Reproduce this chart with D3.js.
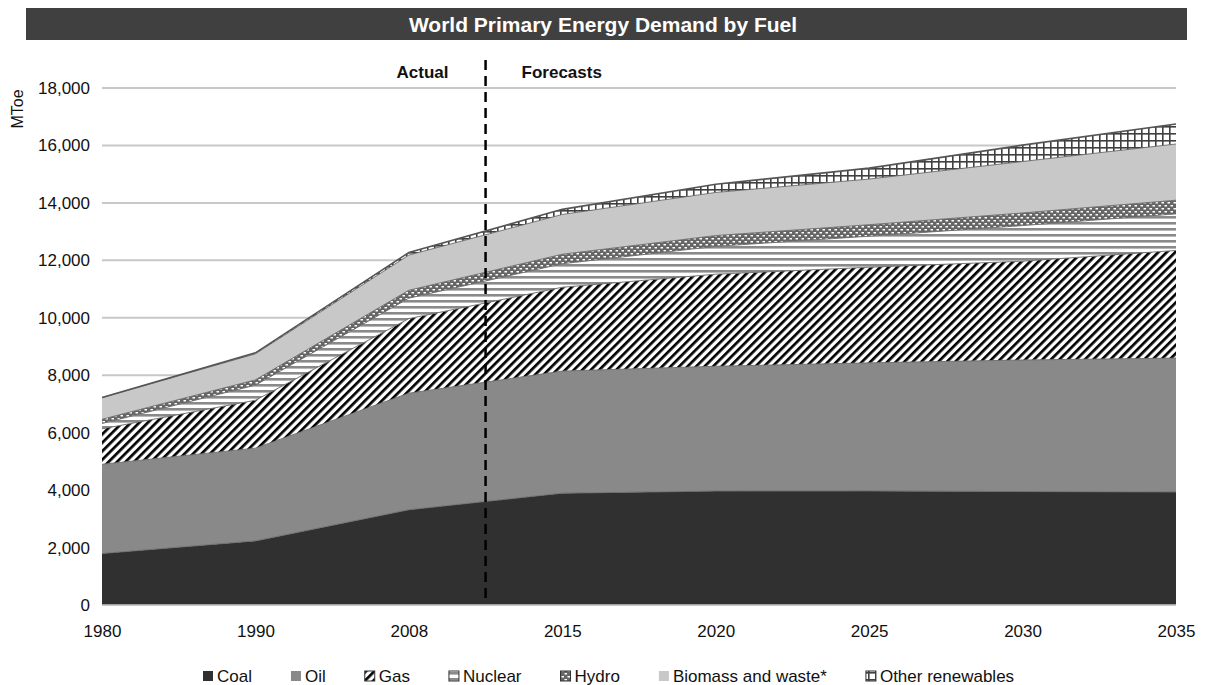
<!DOCTYPE html>
<html>
<head>
<meta charset="utf-8">
<script src="https://cdn.jsdelivr.net/npm/d3@7"></script>
<style>
  body { margin: 0; background: #fff; }
  svg { display: block; font-family: "Liberation Sans", Arial, Helvetica, sans-serif; }
</style>
</head>
<body>
<svg id="chart" width="1208" height="685"></svg>
<script>
const title = "World Primary Energy Demand by Fuel";
const years = ["1980", "1990", "2008", "2015", "2020", "2025", "2030", "2035"];
const coal    = [1792, 2231, 3315, 3892, 3966, 3970, 3950, 3934];
const oil     = [3107, 3230, 4059, 4252, 4346, 4460, 4580, 4662];
const gas     = [1234, 1668, 2596, 2919, 3206, 3330, 3440, 3748];
const nuclear = [186, 526, 712, 818, 968, 1080, 1240, 1273];
const hydro   = [148, 184, 276, 331, 376, 400, 440, 476];
const biomass = [749, 905, 1225, 1385, 1501, 1590, 1790, 1957];
const otherRen = [12, 36, 89, 178, 286, 380, 570, 699];
const seriesNames = ["Coal", "Oil", "Gas", "Nuclear", "Hydro", "Biomass and waste*", "Other renewables"];
const seriesValues = [coal, oil, gas, nuclear, hydro, biomass, otherRen];
const yTicks = [0, 2000, 4000, 6000, 8000, 10000, 12000, 14000, 16000, 18000];
const yLabel = "MToe";
const actualLabel = "Actual";
const forecastLabel = "Forecasts";

const svg = d3.select("#chart");
const defs = svg.append("defs");

// Patterns
const pGas = defs.append("pattern").attr("id", "pGas").attr("patternUnits", "userSpaceOnUse")
  .attr("width", 6).attr("height", 6).attr("patternTransform", "rotate(45)");
pGas.append("rect").attr("width", 6).attr("height", 6).attr("fill", "#fff");
pGas.append("rect").attr("width", 2.7).attr("height", 6).attr("fill", "#000");

const pNuc = defs.append("pattern").attr("id", "pNuc").attr("patternUnits", "userSpaceOnUse")
  .attr("width", 6).attr("height", 6);
pNuc.append("rect").attr("width", 6).attr("height", 6).attr("fill", "#fff");
pNuc.append("rect").attr("y", 0).attr("width", 6).attr("height", 2.6).attr("fill", "#8a8a8a");

const pHyd = defs.append("pattern").attr("id", "pHyd").attr("patternUnits", "userSpaceOnUse")
  .attr("width", 6).attr("height", 6);
pHyd.append("rect").attr("width", 6).attr("height", 6).attr("fill", "#666");
pHyd.append("rect").attr("x", 0.5).attr("y", 1).attr("width", 2.5).attr("height", 1.5).attr("fill", "#fff");
pHyd.append("rect").attr("x", 3.5).attr("y", 4).attr("width", 2.5).attr("height", 1.5).attr("fill", "#fff");

const pOth = defs.append("pattern").attr("id", "pOth").attr("patternUnits", "userSpaceOnUse")
  .attr("width", 7).attr("height", 7);
pOth.append("rect").attr("width", 7).attr("height", 7).attr("fill", "#fff");
pOth.append("rect").attr("width", 1.6).attr("height", 7).attr("fill", "#404040");
pOth.append("rect").attr("width", 7).attr("height", 1.6).attr("fill", "#404040");

const fills = ["#303030", "#898989", "url(#pGas)", "url(#pNuc)", "url(#pHyd)", "#c8c8c8", "url(#pOth)"];

// Title bar
svg.append("rect").attr("x", 26).attr("y", 8).attr("width", 1161).attr("height", 32).attr("fill", "#404040");
svg.append("text").attr("x", 603).attr("y", 31.5).attr("text-anchor", "middle")
  .attr("fill", "#fff").attr("font-size", 21).attr("font-weight", "bold").text(title);

// Scales
const x = d3.scalePoint().domain(years).range([102, 1176]);
const y = d3.scaleLinear().domain([0, 18000]).range([605, 88]);

// Gridlines
svg.append("g").selectAll("line").data(yTicks).join("line")
  .attr("x1", 102).attr("x2", 1176)
  .attr("y1", d => y(d)).attr("y2", d => y(d))
  .attr("stroke", "#c8c8c8").attr("stroke-width", 2);

// Y axis labels
const yAxis = d3.axisLeft(y).tickValues(yTicks).tickFormat(d3.format(",")).tickSize(0).tickPadding(12);
const gy = svg.append("g").attr("transform", "translate(102,0)").call(yAxis);
gy.select(".domain").remove();
gy.selectAll("text").attr("font-size", 17).attr("fill", "#111").attr("font-family", "Liberation Sans, Arial, sans-serif");

svg.append("text").attr("transform", "translate(23,109) rotate(-90)").attr("text-anchor", "middle")
  .attr("font-size", 16).attr("fill", "#111").text(yLabel);

// Stack
const table = years.map((yr, i) => {
  const o = { year: yr };
  seriesNames.forEach((n, k) => o[n] = seriesValues[k][i]);
  return o;
});
const stacked = d3.stack().keys(seriesNames)(table);
const area = d3.area().x(d => x(d.data.year)).y0(d => y(d[0])).y1(d => y(d[1]));
const topLine = d3.line().x(d => x(d.data.year)).y(d => y(d[1]));

const ga = svg.append("g");
ga.selectAll("path.area").data(stacked).join("path").attr("class", "area")
  .attr("d", area).attr("fill", (d, i) => fills[i]);
ga.selectAll("path.edge").data(stacked).join("path").attr("class", "edge")
  .attr("d", topLine).attr("fill", "none")
  .attr("stroke", (d, i) => i === stacked.length - 1 ? "#555" : "#6a6a6a")
  .attr("stroke-width", (d, i) => i === stacked.length - 1 ? 1.6 : 0.9);

// Baseline
svg.append("line").attr("x1", 102).attr("x2", 1176).attr("y1", y(0)).attr("y2", y(0))
  .attr("stroke", "#c8c8c8").attr("stroke-width", 1.5);

// X axis labels
const xAxis = d3.axisBottom(x).tickSize(0).tickPadding(20);
const gx = svg.append("g").attr("transform", `translate(0,${y(0)})`).call(xAxis);
gx.select(".domain").remove();
gx.selectAll("text").attr("font-size", 17).attr("fill", "#111").attr("font-family", "Liberation Sans, Arial, sans-serif");

// Divider
const divX = (x("2008") + x("2015")) / 2;
svg.append("line").attr("x1", divX).attr("x2", divX).attr("y1", 60).attr("y2", 600)
  .attr("stroke", "#000").attr("stroke-width", 2.5).attr("stroke-dasharray", "10,6");
svg.append("text").attr("x", divX - 37).attr("y", 78).attr("text-anchor", "end")
  .attr("font-size", 17).attr("font-weight", "bold").attr("fill", "#111").text(actualLabel);
svg.append("text").attr("x", divX + 36).attr("y", 78).attr("text-anchor", "start")
  .attr("font-size", 17).attr("font-weight", "bold").attr("fill", "#111").text(forecastLabel);

// Legend
const lg = svg.append("g");
let lx = 203;
seriesNames.forEach((n, i) => {
  lg.append("rect").attr("x", lx).attr("y", 671).attr("width", 10).attr("height", 10)
    .attr("fill", fills[i]).attr("stroke", i >= 2 && i !== 5 ? "#333" : "none").attr("stroke-width", 1);
  const t = lg.append("text").attr("x", lx + 14).attr("y", 682).attr("font-size", 17).attr("fill", "#111").text(n);
  lx += 14 + t.node().getComputedTextLength() + 39;
});
</script>
</body>
</html>
